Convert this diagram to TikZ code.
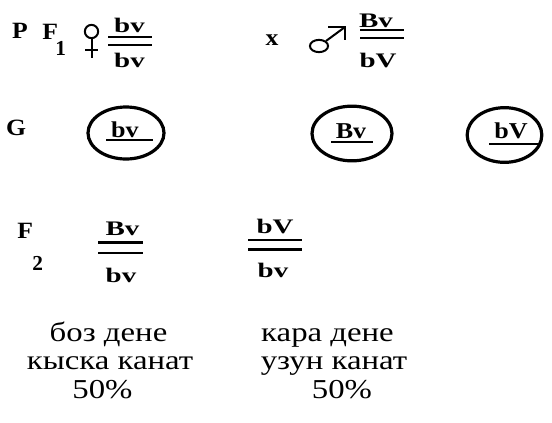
\documentclass[tikz,border=0pt]{standalone}
\usepackage{fontspec}
\setmainfont{Liberation Serif}
\begin{document}
\begin{tikzpicture}[x=0.75pt,y=-0.75pt,
  lab/.style={inner sep=0pt,anchor=base,xscale=1.1,font=\fontsize{17.5}{17}\selectfont\bfseries},
  sub/.style={inner sep=0pt,anchor=base west,font=\fontsize{16}{16}\selectfont\bfseries},
  frac/.style={inner sep=0pt,anchor=base,xscale=1.4,font=\fontsize{15.5}{16}\selectfont\bfseries},
  gam/.style={inner sep=0pt,anchor=base,xscale=1.15,font=\fontsize{17}{17}\selectfont\bfseries},
  txt/.style={inner sep=0pt,anchor=base,xscale=1.2,font=\fontsize{20.5}{21}\selectfont},
  bar/.style={line width=2pt},
  uline/.style={line width=1.6pt},
  ring/.style={line width=2.4pt},
  sym/.style={line width=1.5pt}]
\useasboundingbox (0,0) rectangle (552,422);
% P row
\node[lab] (P) at (20,38) {P};
\node[lab,anchor=base west] (F1) at (42,39) {F};
\node[sub] (F1s) at (55,55) {1};
% female symbol
\coordinate (fc) at (91.5,31.5);
\draw[sym] (fc) circle[radius=5pt];
\coordinate (fs1) at (91.5,38.5);
\coordinate (fs2) at (91.5,58);
\coordinate (fx1) at (85,50);
\coordinate (fx2) at (98,50);
\draw[sym] (fs1) -- (fs2) (fx1) -- (fx2);
% fraction 1
\node[frac] (a1) at (129.5,32) {bv};
\node[frac] (a2) at (129.5,67) {bv};
\coordinate (a3) at (108,37); \coordinate (a4) at (152,37);
\coordinate (a5) at (108,45); \coordinate (a6) at (152,45);
\draw[bar] (a3) -- (a4) (a5) -- (a6);
% x
\node[lab] (xx) at (272,45) {x};
% male symbol
\coordinate (mc) at (319,46);
\draw[sym] (mc) ellipse[x radius=6.8pt,y radius=4.6pt];
\coordinate (m1) at (326,41);
\coordinate (m2) at (345,27);
\coordinate (m3) at (328,27);
\coordinate (m4) at (345,40);
\draw[sym] (m1) -- (m2);
\draw[sym] (m3) -- (m2) -- (m4);
% fraction 2
\node[frac] (b1) at (376,27) {Bv};
\node[frac] (b2) at (378,67) {bV};
\coordinate (b3) at (360,30); \coordinate (b4) at (404,30);
\coordinate (b5) at (360,38); \coordinate (b6) at (404,38);
\draw[bar] (b3) -- (b4) (b5) -- (b6);
% G row
\node[lab] (G) at (16,135) {G};
\coordinate (e1) at (126,133);
\coordinate (e2) at (352,133.5);
\coordinate (e3) at (504.5,135);
\draw[ring] (e1) ellipse[x radius=28.5pt,y radius=19.5pt];
\draw[ring] (e2) ellipse[x radius=30pt,y radius=20.5pt];
\draw[ring] (e3) ellipse[x radius=28pt,y radius=20.5pt];
\node[gam] (g1) at (125,137) {bv};
\node[gam] (g2) at (351,138) {Bv};
\node[gam] (g3) at (511,138) {bV};
\coordinate (u1) at (106,140); \coordinate (u2) at (153,140);
\coordinate (u3) at (331,142); \coordinate (u4) at (373,142);
\coordinate (u5) at (489,144); \coordinate (u6) at (539,144);
\draw[uline] (u1) -- (u2) (u3) -- (u4) (u5) -- (u6);
% F2 row
\node[lab,anchor=base west] (F2) at (17,238) {F};
\node[sub] (F2s) at (32,270) {2};
\node[frac] (c1) at (122.5,235) {Bv};
\node[frac] (c2) at (121,282) {bv};
\coordinate (c3) at (98,242.5); \coordinate (c4) at (143,242.5);
\coordinate (c5) at (98,253); \coordinate (c6) at (143,253);
\draw[bar] (c3) -- (c4) (c5) -- (c6);
\node[frac] (d1) at (275,233) {bV};
\node[frac] (d2) at (273,277) {bv};
\coordinate (d3) at (248,240); \coordinate (d4) at (302,240);
\coordinate (d5) at (248,249.5); \coordinate (d6) at (302,249.5);
\draw[bar] (d3) -- (d4) (d5) -- (d6);
% descriptions
\node[txt] (t1) at (108.5,341) {боз дене};
\node[txt] (t2) at (110,369) {кыска канат};
\node[txt] (t3) at (102.5,398) {50\%};
\node[txt] (t4) at (327.5,341) {кара дене};
\node[txt] (t5) at (334,369) {узун канат};
\node[txt] (t6) at (342,398) {50\%};
\end{tikzpicture}
\end{document}
